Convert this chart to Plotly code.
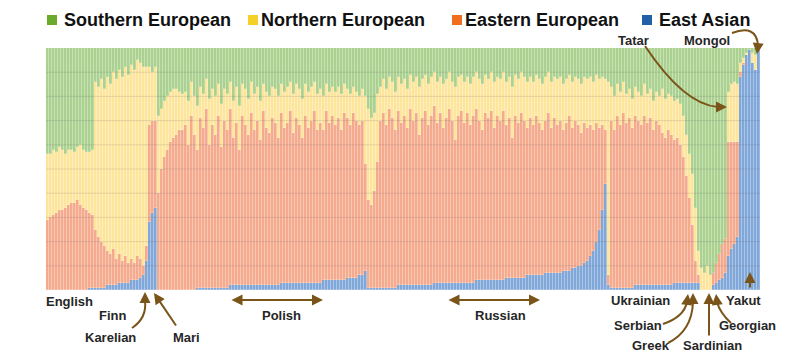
import plotly.graph_objects as go

# ---------------- data (percent ancestry per individual, left to right) ----------------
populations = ["English", "Finn", "Karelian", "Mari", "Polish", "Russian", "Ukrainian",
               "Serbian", "Greek", "Sardinian", "Georgian", "Tatar", "Mongol", "Yakut"]
pop_sizes = [16, 16, 3, 2, 71, 80, 28, 1, 1, 4, 5, 4, 4, 3]

east_asian = [
    0, 0, 0, 0, 0, 0, 0, 0, 0, 0, 0, 0, 0, 0, 1, 1,
    1, 1, 1, 1, 2, 2, 2, 2, 3, 3, 3, 3, 4, 4, 4, 5,
    6, 12, 28,
    32, 34,
    0, 0, 0, 0, 0, 0, 0, 0, 0,
    0, 0, 0, 0, 1, 1, 1, 1, 1, 1,
    1, 1, 1, 1, 1, 2, 2, 2, 2, 2,
    2, 2, 2, 2, 2, 2, 2, 2, 2, 2,
    2, 2, 3, 3, 3, 3, 3, 3, 3, 3,
    3, 3, 3, 3, 3, 3, 4, 4, 4, 4,
    4, 4, 4, 4, 5, 5, 5, 5, 6, 6,
    8, 1,
    1, 1, 1,
    1, 1, 1, 1, 1, 1, 2, 2, 2, 2,
    2, 2, 2, 2, 2, 2, 2, 2, 3, 3,
    3, 3, 3, 3, 3, 3, 3, 3, 3, 3,
    3, 3, 4, 4, 4, 4, 4, 4, 4, 4,
    4, 4, 5, 5, 5, 5, 5, 5, 5, 6,
    6, 6, 6, 6, 6, 7, 7, 7, 7, 7,
    7, 8, 8, 8, 9, 9, 10, 10, 11, 12,
    14, 16, 20, 25, 33, 44,
    2,
    1, 1, 1, 1, 1, 1, 1, 1, 2, 2,
    2, 2, 2, 2, 2, 2, 2, 2, 2, 2,
    2, 3, 3, 3, 3, 3, 3, 3, 3,
    3,
    0, 0, 0, 0,
    2, 3, 4, 5, 7,
    14, 17, 19, 22,
    88, 93, 97, 99, 94, 91, 99,
]

eastern_european = [
    29, 30, 31, 32, 33, 33, 34, 35, 36, 36, 37, 35, 34, 33, 31, 30,
    24, 21, 19, 17, 14, 13, 15, 11, 12, 9, 11, 8, 9, 7, 10, 8,
    4, 6, 40,
    38, 36,
    40, 50, 55, 58, 61, 63, 64, 66, 66,
    68, 60, 72, 64, 57, 70, 66, 74, 59, 67,
    63, 71, 58, 69, 65, 73, 61, 67, 56, 70,
    66, 62, 71, 64, 68, 60, 72, 65, 63, 69,
    67, 61, 70, 64, 66, 71, 62, 68, 65, 60,
    69, 64, 67, 71, 63, 66, 62, 70, 65, 68,
    64, 67, 62, 69, 66, 63, 68, 65, 62, 64,
    44, 36,
    34, 40, 52,
    69, 72, 67, 74, 70, 65, 72, 67, 70, 65,
    73, 68, 71, 62, 69, 72, 66, 70, 73, 66,
    70, 64, 68, 72, 67, 59, 69, 71, 66, 70,
    65, 69, 71, 66, 62, 69, 67, 70, 63, 68,
    66, 70, 63, 66, 58, 67, 64, 68, 65, 61,
    65, 62, 66, 63, 60, 63, 66, 60, 64, 61,
    63, 58, 61, 64, 58, 61, 58, 55, 58, 55,
    54, 50, 49, 42, 35, 22,
    4,
    69, 65, 71, 67, 72, 68, 70, 66, 70, 68,
    66, 70, 67, 69, 64, 68, 66, 63, 61, 64,
    62, 59, 60, 57, 52, 44, 35, 24, 9,
    3,
    0, 0, 0, 0,
    5, 8, 11, 14, 14,
    47, 44, 42, 39,
    2, 1, 0, 0, 0, 0, 0,
]

northern_european = [
    27, 26, 27, 25, 26, 25, 22, 23, 22, 21, 22, 25, 24, 24, 25, 27,
    61, 62, 67, 65, 72, 70, 73, 74, 76, 76, 78, 78, 80, 80, 81, 81,
    82, 74, 24,
    20, 22,
    32, 25, 23, 22, 21, 20, 19, 16, 15,
    14, 18, 14, 16, 18, 13, 14, 12, 19, 15,
    16, 13, 18, 13, 15, 11, 15, 15, 18, 13,
    15, 15, 13, 15, 14, 16, 11, 15, 15, 13,
    14, 17, 12, 15, 15, 12, 16, 14, 15, 16,
    13, 15, 14, 12, 15, 14, 14, 11, 13, 12,
    14, 13, 15, 12, 12, 13, 11, 12, 12, 13,
    28, 38,
    36, 32, 28,
    14, 14, 15, 13, 15, 16, 14, 16, 15, 16,
    14, 16, 15, 20, 16, 15, 17, 16, 14, 17,
    15, 18, 16, 15, 16, 22, 16, 15, 17, 15,
    17, 16, 15, 17, 19, 16, 16, 16, 19, 16,
    17, 16, 18, 17, 21, 17, 18, 17, 18, 19,
    17, 18, 17, 18, 19, 18, 17, 19, 17, 19,
    18, 19, 18, 17, 19, 18, 19, 20, 19, 20,
    20, 20, 20, 20, 20, 21,
    80,
    14, 14, 13, 14, 13, 12, 12, 12, 12, 12,
    12, 13, 12, 12, 12, 12, 12, 18, 16, 15,
    16, 16, 16, 17, 17, 17, 18, 21, 22,
    10,
    9, 7, 10, 6,
    0, 0, 0, 0, 0,
    21, 24, 25, 24,
    4, 2, 1, 0, 4, 6, 0,
]

southern_european = [
    44, 44, 42, 43, 41, 42, 44, 42, 42, 43, 41, 40, 42, 43, 43, 42,
    14, 16, 13, 17, 12, 15, 10, 13, 9, 12, 8, 11, 7, 9, 5, 6,
    8, 8, 8,
    10, 8,
    28, 25, 22, 20, 18, 17, 17, 18, 19,
    18, 22, 14, 20, 24, 16, 19, 13, 21, 17,
    20, 15, 23, 17, 19, 14, 22, 16, 24, 15,
    17, 21, 14, 19, 16, 22, 15, 18, 20, 16,
    17, 20, 15, 18, 16, 14, 19, 15, 17, 21,
    15, 18, 16, 14, 19, 17, 20, 15, 18, 16,
    18, 16, 19, 15, 17, 19, 16, 18, 20, 17,
    20, 25,
    29, 27, 19,
    16, 13, 17, 12, 14, 18, 12, 15, 13, 17,
    11, 14, 12, 16, 13, 11, 15, 12, 10, 14,
    12, 15, 13, 10, 14, 16, 12, 11, 14, 12,
    15, 12, 10, 13, 15, 11, 13, 10, 14, 12,
    13, 10, 14, 12, 16, 11, 13, 10, 12, 14,
    12, 14, 11, 13, 15, 12, 10, 14, 12, 13,
    12, 15, 13, 11, 14, 12, 13, 15, 12, 13,
    12, 14, 11, 13, 12, 13,
    14,
    16, 20, 15, 18, 14, 19, 17, 21, 16, 18,
    20, 15, 19, 17, 22, 18, 20, 17, 21, 19,
    20, 22, 21, 23, 28, 36, 44, 52, 66,
    84,
    91, 93, 90, 94,
    93, 89, 85, 81, 79,
    18, 15, 14, 15,
    6, 4, 2, 1, 2, 3, 1,
]

legend_names = ["Southern European", "Northern European", "Eastern European", "East Asian"]

# ---------------- figure ----------------
sample_ids = [f"{p} {k + 1}" for p, n in zip(populations, pop_sizes) for k in range(n)]

L, R, TOP, BOT = 46, 760, 48, 290


def px(x):
    return (x - L) / (R - L)


def py(y):
    return (BOT - y) / (BOT - TOP)


bar_colors = {
    "East Asian": "#80a7d9",
    "Eastern European": "#f5aa8e",
    "Northern European": "#fee59c",
    "Southern European": "#aad18f",
}
key_colors = {
    "Southern European": "#6aab2d",
    "Northern European": "#f3d126",
    "Eastern European": "#f26e1f",
    "East Asian": "#2261a8",
}

fig = go.Figure()
for name, vals in [("East Asian", east_asian), ("Eastern European", eastern_european),
                   ("Northern European", northern_european), ("Southern European", southern_european)]:
    fig.add_trace(go.Bar(
        x=sample_ids, y=vals, name=name,
        marker=dict(color=bar_colors[name], line=dict(color="rgba(255,255,255,0.4)", width=0.5)),
    ))

fig.update_layout(
    barmode="stack", bargap=0, width=798, height=359,
    margin=dict(l=L, r=798 - R, t=TOP, b=359 - BOT),
    showlegend=False, plot_bgcolor="white", paper_bgcolor="white",
    font=dict(family="Liberation Sans, Arial, sans-serif", color="#222222"),
)
fig.update_xaxes(visible=False, range=[-0.5, len(sample_ids) - 0.5])
fig.update_yaxes(visible=False, range=[0, 100])

shapes = []
# faint horizontal rules drawn over the bars
for v in range(10, 100, 10):
    shapes.append(dict(type="line", xref="paper", yref="y", x0=0, x1=1, y0=v, y1=v,
                       line=dict(color="rgba(90,90,90,0.16)", width=1), layer="above"))

# custom key
key_pos = [(47, 62), (248, 259), (452, 463), (642, 657)]
annotations = []
for name, (sx, tx) in zip(legend_names, key_pos):
    shapes.append(dict(type="rect", xref="paper", yref="paper",
                       x0=px(sx), x1=px(sx + 10), y0=py(25), y1=py(15),
                       fillcolor=key_colors[name], line=dict(width=0)))
    annotations.append(dict(xref="paper", yref="paper", x=px(tx), y=py(20), text=f"<b>{name}</b>",
                            showarrow=False, xanchor="left", yanchor="middle",
                            font=dict(size=18, color="#111111")))

# population labels
labels = [("English", 69, 301), ("Finn", 112, 315), ("Karelian", 110, 337), ("Mari", 186, 337),
          ("Polish", 281, 315), ("Russian", 500, 315), ("Ukrainian", 640, 300),
          ("Serbian", 638, 325), ("Greek", 651, 345), ("Sardinian", 712, 345),
          ("Georgian", 747, 325), ("Yakut", 743, 300), ("Tatar", 633, 40), ("Mongol", 707, 40)]
for text, x, y in labels:
    annotations.append(dict(xref="paper", yref="paper", x=px(x), y=py(y), text=f"<b>{text}</b>",
                            showarrow=False, xanchor="center", yanchor="middle",
                            font=dict(size=13, color="#262626")))

ARROW = "#7a5418"


def curve(points, kind):
    (x0, y0) = points[0]
    d = f"M {px(x0)},{py(y0)} {kind}"
    d += " ".join(f" {px(x)},{py(y)}" for x, y in points[1:])
    shapes.append(dict(type="path", xref="paper", yref="paper", path=d,
                       line=dict(color=ARROW, width=2)))


def head(x, y, tx, ty, both=False):
    annotations.append(dict(xref="paper", yref="paper", x=px(x), y=py(y), text="",
                            showarrow=True, ax=tx - x, ay=ty - y, axref="pixel", ayref="pixel",
                            arrowhead=2, arrowsize=1.1, arrowwidth=2, arrowcolor=ARROW,
                            arrowside="end+start" if both else "end", startarrowhead=2,
                            startarrowsize=1.1))


# Karelian
curve([(132, 328), (147, 318), (145, 301)], "Q")
head(145, 292, 145, 301)
# Mari
head(154, 293, 177, 327)
# Polish / Russian ranges
head(323, 300, 230, 300, both=True)
head(540, 300, 447, 300, both=True)
# Serbian
curve([(663, 324), (684, 317), (687, 302)], "Q")
head(688, 294, 687, 302)
# Greek
curve([(668, 343), (692, 331), (693, 302)], "Q")
head(693, 293, 693, 302)
# Sardinian
head(709, 293, 709, 337)
# Georgian
curve([(731, 323), (720, 313), (717, 302)], "Q")
head(716, 294, 717, 302)
# Yakut
head(750, 272, 750, 289)
# Tatar
curve([(645, 46), (665, 76), (690, 105), (718, 107)], "C")
head(727, 107, 718, 107)
# Mongol
curve([(732, 33), (756, 24), (758, 45)], "Q")
head(757, 54, 758, 45)

fig.update_layout(shapes=shapes, annotations=annotations)
fig.write_html("out.html", config={"displayModeBar": False},
               post_script="document.body.style.margin='0px';")
